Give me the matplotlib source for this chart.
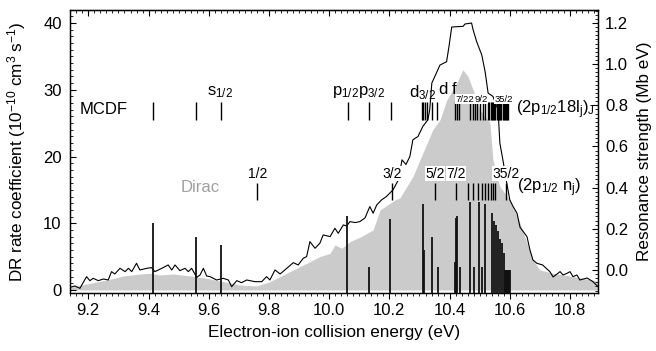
import matplotlib
matplotlib.use("Agg")
import matplotlib.pyplot as plt
from matplotlib.ticker import MultipleLocator

plt.rcParams['font.family'] = ['Liberation Sans', 'DejaVu Sans']
plt.rcParams['mathtext.fontset'] = 'custom'
plt.rcParams['mathtext.rm'] = 'Liberation Sans'
plt.rcParams['mathtext.it'] = 'Liberation Sans:italic'
plt.rcParams['mathtext.default'] = 'regular'

# Measured DR rate coefficient (10^-10 cm^3 s^-1)
exp_energy = [9.139, 9.155, 9.172, 9.194, 9.205, 9.216, 9.233, 9.250, 9.266, 9.277,
              9.288, 9.305, 9.322, 9.333, 9.344, 9.360, 9.371, 9.394, 9.410, 9.421,
              9.444, 9.465, 9.477, 9.488, 9.504, 9.521, 9.532, 9.543, 9.560, 9.571,
              9.582, 9.593, 9.604, 9.626, 9.648, 9.665, 9.676, 9.693, 9.709, 9.726,
              9.753, 9.776, 9.792, 9.803, 9.820, 9.837, 9.859, 9.881, 9.897, 9.914,
              9.925, 9.936, 9.953, 9.969, 9.980, 10.003, 10.019, 10.030, 10.047, 10.058,
              10.069, 10.086, 10.102, 10.119, 10.135, 10.146, 10.158, 10.174, 10.190,
              10.212, 10.230, 10.242, 10.255, 10.268, 10.278, 10.295, 10.311, 10.328,
              10.334, 10.341, 10.351, 10.368, 10.390, 10.398, 10.407, 10.445, 10.451,
              10.473, 10.478, 10.490, 10.507, 10.518, 10.528, 10.544, 10.561, 10.567,
              10.577, 10.590, 10.600, 10.611, 10.624, 10.634, 10.657, 10.667, 10.677,
              10.690, 10.709, 10.733, 10.744, 10.767, 10.777, 10.790, 10.800, 10.810,
              10.823, 10.833, 10.857, 10.876, 10.893]
exp_rate = [0.4, 0.6, 0.25, 2.0, 1.4, 1.75, 1.4, 1.65, 1.5, 2.75,
            2.4, 3.25, 2.75, 3.25, 2.75, 4.0, 3.0, 3.25, 3.35, 2.75,
            3.25, 3.75, 3.0, 3.75, 2.9, 3.25, 2.75, 3.25, 1.9, 2.25,
            3.25, 2.1, 2.0, 1.5, 1.75, 1.5, 0.5, 1.4, 1.1, 1.5,
            1.25, 1.25, 2.0, 1.5, 3.0, 2.4, 3.25, 4.1, 3.75, 4.75,
            5.0, 7.25, 6.25, 7.0, 8.25, 8.0, 9.25, 8.5, 9.75, 9.6,
            10.25, 10.1, 10.25, 10.8, 12.5, 11.5, 12.75, 13.5, 14.0,
            15.0, 16.5, 19.5, 18.8, 20.0, 22.5, 23.0, 24.5, 25.5,
            27.0, 31.0, 32.0, 33.7, 34.2, 36.5, 39.4, 39.5, 39.85,
            40.0, 39.0, 37.2, 35.2, 32.7, 29.5, 29.0, 27.0, 22.0,
            19.5, 16.0, 13.5, 12.5, 11.5, 9.4, 8.0, 6.0, 4.5,
            4.0, 3.75, 2.75, 1.95, 2.75, 2.25, 2.5, 2.75, 2.0,
            2.25, 1.5, 1.8, 1.25, 0.5]

# Convolved theoretical rate coefficient (shaded)
theo_energy = [9.139, 9.205, 9.261, 9.316, 9.371, 9.405, 9.438, 9.482, 9.538, 9.593,
               9.648, 9.704, 9.759, 9.803, 9.847, 9.892, 9.936, 9.969, 10.003, 10.019,
               10.042, 10.069, 10.102, 10.146, 10.169, 10.219, 10.235, 10.278, 10.311,
               10.344, 10.368, 10.391, 10.424, 10.444, 10.461, 10.478, 10.501, 10.534,
               10.544, 10.567, 10.600, 10.634, 10.657, 10.677, 10.700, 10.744, 10.810,
               10.876, 10.893]
theo_rate = [0.4, 1.0, 1.5, 2.1, 2.4, 2.5, 2.25, 2.4, 2.1, 1.75,
             1.25, 0.75, 0.6, 1.25, 2.25, 3.25, 4.25, 5.0, 5.5, 6.75,
             6.25, 7.25, 7.9, 9.0, 12.0, 13.5, 13.8, 17.0, 20.5,
             24.0, 25.5, 28.5, 31.0, 33.0, 32.0, 30.0, 27.0, 25.0,
             19.5, 15.5, 13.5, 10.0, 7.0, 4.5, 3.0, 2.5, 2.0,
             1.5, 1.25]

# Individual resonance strengths (Mb eV)
stick_energy = [9.416, 9.557, 9.640, 10.060, 10.132, 10.202, 10.311, 10.316, 10.340,
                10.360, 10.418, 10.421, 10.426, 10.435, 10.468, 10.481, 10.497, 10.509,
                10.518, 10.540, 10.547, 10.553, 10.560, 10.567, 10.574, 10.581, 10.584,
                10.586, 10.588, 10.590, 10.592, 10.594, 10.596, 10.598, 10.600]
stick_strength = [0.23, 0.16, 0.12, 0.26, 0.016, 0.246, 0.32, 0.097, 0.16,
                  0.016, 0.04, 0.25, 0.26, 0.016, 0.33, 0.016, 0.33, 0.016,
                  0.32, 0.275, 0.24, 0.22, 0.19, 0.15, 0.13, 0.08, 0.0,
                  0.0, 0.0, 0.0, 0.0, 0.0, 0.0, 0.0, 0.0]

# Level positions: MCDF (2p1/2 18lj)J and Dirac (2p1/2 nj)
mcdf_energy = [9.416, 9.557, 9.640, 10.061, 10.132, 10.204, 10.308, 10.313, 10.319,
               10.325, 10.340, 10.359, 10.418, 10.424, 10.432, 10.468, 10.477, 10.485,
               10.492, 10.501, 10.510, 10.518, 10.528, 10.532, 10.536, 10.540, 10.544,
               10.548, 10.552, 10.556, 10.560, 10.564, 10.568, 10.572, 10.576, 10.580,
               10.584, 10.588, 10.592, 10.595]
dirac_energy = [9.761, 10.208, 10.351, 10.421, 10.462, 10.479, 10.495, 10.507, 10.518,
                10.529, 10.538, 10.545, 10.551, 10.588]

fig = plt.figure(figsize=(6.56, 3.51), dpi=100)
ax = fig.add_axes([70 / 656, 1 - 293 / 351, 528 / 656, 283 / 351])
ax2 = ax.twinx()

ax.set_xlim(9.139, 10.893)
ax.set_ylim(-0.45, 41.95)
ax2.set_ylim(-0.112, 1.263)

ax.fill_between(theo_energy, 0, theo_rate, color='#cbcbcb', lw=0, zorder=1)
ax.plot(exp_energy, exp_rate, color='black', lw=0.8, zorder=3)

ax2.vlines(stick_energy, -0.112, stick_strength, color='#111111', lw=1.3, zorder=4)

# Level markers
ax.vlines(mcdf_energy, 25.5, 28.2, color='black', lw=1.0)
ax.vlines(dirac_energy, 13.5, 16.0, color='black', lw=1.0)

fs = 12
wb = dict(facecolor='white', edgecolor='none', pad=0.3)
ax.text(9.170, 27.0, 'MCDF', fontsize=fs, va='center', ha='left')
ax.text(9.638, 29.6, r's$_{1/2}$', fontsize=fs, va='center', ha='center')
ax.text(10.096, 29.6, r'p$_{1/2}$p$_{3/2}$', fontsize=fs, va='center', ha='center')
ax.text(10.311, 29.6, r'd$_{3/2}$', fontsize=fs, va='center', ha='center')
ax.text(10.378, 30.0, 'd', fontsize=fs, va='center', ha='center')
ax.text(10.415, 30.0, 'f', fontsize=fs, va='center', ha='center')
ax.text(10.420, 28.6, '7/22', fontsize=6.8, va='center', ha='left', bbox=wb)
ax.text(10.504, 28.6, '9/2', fontsize=6.8, va='center', ha='center', bbox=wb)
ax.text(10.579, 28.6, '35/2', fontsize=6.8, va='center', ha='center', bbox=wb)
ax.text(10.622, 27.0, r'(2p$_{1/2}$18l$_j$)$_J$', fontsize=fs, va='center', ha='left')

ax.text(9.505, 15.3, 'Dirac', fontsize=fs, va='center', ha='left', color='#a0a0a0')
for e, lab in [(9.761, '1/2'), (10.208, '3/2'), (10.351, '5/2'), (10.421, '7/2'),
               (10.588, '35/2')]:
    ax.text(e, 17.4, lab, fontsize=10, va='center', ha='center', bbox=wb)
ax.text(10.625, 15.3, r'(2p$_{1/2}$ n$_j$)', fontsize=fs, va='center', ha='left')

# Axes styling
ax.xaxis.set_minor_locator(MultipleLocator(0.02))
ax.yaxis.set_major_locator(MultipleLocator(10))
ax.yaxis.set_minor_locator(MultipleLocator(1))
ax2.yaxis.set_minor_locator(MultipleLocator(0.02))
ax2.set_yticks([0.0, 0.2, 0.4, 0.6, 0.8, 1.0, 1.2])
ax2.set_yticklabels(['0.0', '0.2', '0.4', '0.6', '0.8', '1.0', '1.2'])
ax.set_xticks([9.2, 9.4, 9.6, 9.8, 10.0, 10.2, 10.4, 10.6, 10.8])
ax.set_xticklabels(['9.2', '9.4', '9.6', '9.8', '10.0', '10.2', '10.4', '10.6', '10.8'])

ax.tick_params(axis='x', which='both', direction='out', top=False, labelsize=fs, pad=3)
ax.tick_params(axis='x', which='major', length=4, width=0.8)
ax.tick_params(axis='x', which='minor', length=2.5, width=0.6)
ax.tick_params(axis='y', which='both', direction='in', labelsize=fs, right=False, pad=6)
ax.tick_params(axis='y', which='major', length=4, width=0.8)
ax.tick_params(axis='y', which='minor', length=2.5, width=0.6)
ax2.tick_params(axis='y', which='both', direction='in', labelsize=fs, pad=5)
ax2.tick_params(axis='y', which='major', length=4, width=0.8)
ax2.tick_params(axis='y', which='minor', length=2.5, width=0.6)

# top ticks point inward
secx = ax.secondary_xaxis('top')
secx.set_xticks([9.2, 9.4, 9.6, 9.8, 10.0, 10.2, 10.4, 10.6, 10.8])
secx.xaxis.set_minor_locator(MultipleLocator(0.02))
secx.tick_params(which='both', direction='in', labeltop=False)
secx.tick_params(which='major', length=4, width=0.8)
secx.tick_params(which='minor', length=2.5, width=0.6)

for sp in list(ax.spines.values()) + list(ax2.spines.values()):
    sp.set_linewidth(0.9)

ax.set_xlabel('Electron-ion collision energy (eV)', fontsize=12.3, labelpad=5)
ax.set_ylabel(r'DR rate coefficient (10$^{-10}$ cm$^{3}$ s$^{-1}$)', fontsize=12.3)
ax.yaxis.set_label_coords(-0.080, 0.5)
ax2.set_ylabel('Resonance strength (Mb eV)', fontsize=12.3)
ax2.yaxis.set_label_coords(1.074, 0.5)

fig.savefig('out.png', dpi=100)
